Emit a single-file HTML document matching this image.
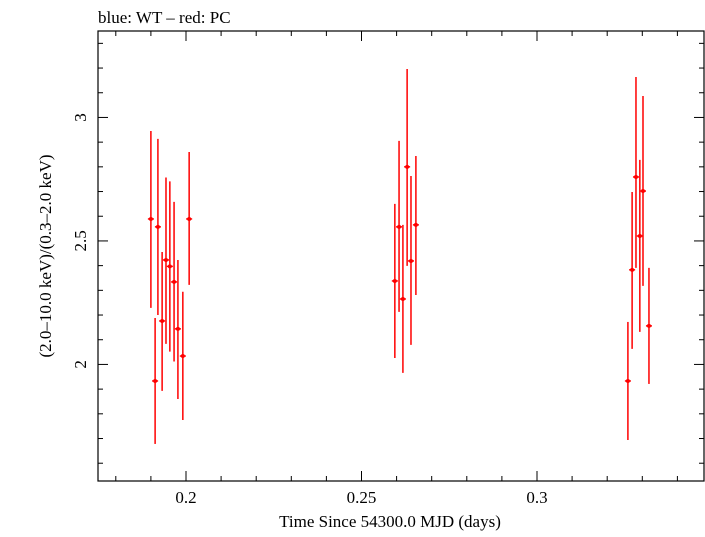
<!DOCTYPE html>
<html><head><meta charset="utf-8"><style>
body{margin:0;background:#fff}
svg text{font-family:"Liberation Serif",serif;fill:#000}
</style></head><body>
<svg id="c" width="705" height="532" xmlns="http://www.w3.org/2000/svg">
<text x="98" y="23" font-size="17">blue: WT – red: PC</text>
<rect x="98" y="31" width="606" height="450" fill="none" stroke="#000" stroke-width="1.2"/>
<g id="ticks"></g>
<g id="marks"></g>
<text x="390" y="527" font-size="17" text-anchor="middle">Time Since 54300.0 MJD (days)</text>
<text transform="translate(51,256) rotate(-90)" font-size="17" text-anchor="middle">(2.0–10.0 keV)/(0.3–2.0 keV)</text>
</svg>
<script>
const xs=[0.1900,0.1912,0.1920,0.1932,0.1943,0.1954,0.1966,0.1977,0.1991,0.2009,
0.2595,0.2607,0.2618,0.2630,0.2641,0.2655,
0.3259,0.3271,0.3282,0.3293,0.3302,0.3319];
const ys=[2.589,1.933,2.557,2.176,2.423,2.397,2.334,2.144,2.034,2.589,
2.338,2.557,2.265,2.800,2.419,2.565,
1.933,2.383,2.759,2.520,2.702,2.156];
const yHi=[2.945,2.188,2.913,2.455,2.757,2.741,2.658,2.423,2.294,2.860,
2.650,2.905,2.565,3.196,2.763,2.844,
2.172,2.698,3.164,2.828,3.087,2.391];
const yLo=[2.229,1.678,2.200,1.893,2.083,2.052,2.012,1.860,1.775,2.322,
2.026,2.213,1.966,2.399,2.079,2.281,
1.694,2.063,2.391,2.132,2.318,1.921];
const xTickLabels=["0.2","0.25","0.3"];
const yTickLabels=["2","2.5","3"];
const L=98,R=704,T=31,B=481;
const x0=0.17493,x1=0.34758,y0=1.528,y1=3.350;
const X=v=>L+(v-x0)/(x1-x0)*(R-L);
const Y=v=>B-(v-y0)/(y1-y0)*(B-T);
const NS="http://www.w3.org/2000/svg";
function mk(tag,attrs,parent){const e=document.createElementNS(NS,tag);for(const k in attrs)e.setAttribute(k,attrs[k]);parent.appendChild(e);return e;}
const tg=document.getElementById('ticks');
for(let i=18;i<=34;i++){const v=i/100,px=X(v);const maj=i%5==0;const len=maj?10:5;
 let l=mk('line',{x1:px,x2:px,y1:B,y2:B-len,stroke:'#000','stroke-width':1},tg);
 
 
 l=mk('line',{x1:px,x2:px,y1:T,y2:T+len,stroke:'#000','stroke-width':1},tg);
 
 }
xTickLabels.forEach(s=>{const t=mk('text',{x:X(parseFloat(s)),y:B+22,'font-size':17,'text-anchor':'middle'},tg);t.textContent=s;
 
 });
for(let i=16;i<=33;i++){const v=i/10,px=Y(v);const maj=i%5==0;const len=maj?10:5;
 let l=mk('line',{y1:px,y2:px,x1:L,x2:L+len,stroke:'#000','stroke-width':1},tg);
 
 
 l=mk('line',{y1:px,y2:px,x1:R,x2:R-len,stroke:'#000','stroke-width':1},tg);
 
 }
yTickLabels.forEach(s=>{const py=Y(parseFloat(s));const t=mk('text',{transform:`translate(86,${py}) rotate(-90)`,'font-size':17,'text-anchor':'middle'},tg);t.textContent=s;
 
 });
const mg=document.getElementById('marks');
xs.forEach((xv,i)=>{const g=mk('g',{},mg);
 
 
 const px=X(xv);
 mk('line',{x1:px,x2:px,y1:Y(yHi[i]),y2:Y(yLo[i]),stroke:'#f00','stroke-width':1.5},g);
 mk('line',{x1:px-3,x2:px+3,y1:Y(ys[i]),y2:Y(ys[i]),stroke:'#f00','stroke-width':1.5},g);
 mk('circle',{cx:px,cy:Y(ys[i]),r:2,fill:'#f00'},g);});
</script>
</body></html>
